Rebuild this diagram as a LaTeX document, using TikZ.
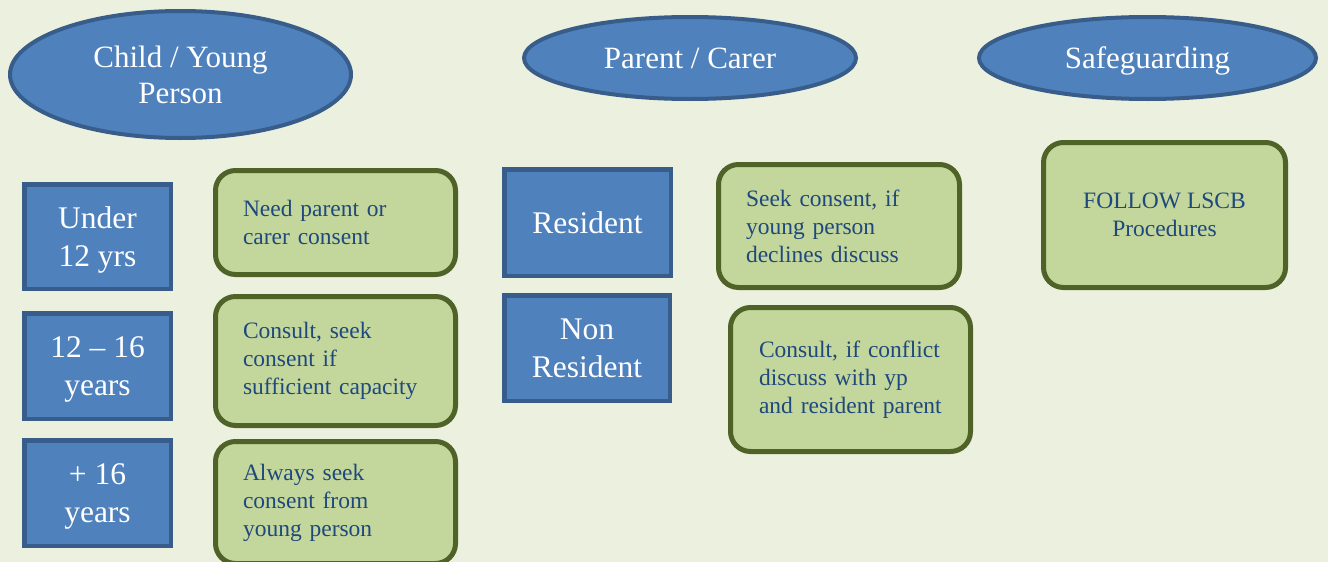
\documentclass[tikz,border=0pt]{standalone}
\usepackage{fontspec}
\setmainfont{Liberation Serif}
\usetikzlibrary{shapes.geometric}
\definecolor{bgc}{HTML}{EBF1DE}
\definecolor{bluefill}{HTML}{4F81BD}
\definecolor{blueline}{HTML}{385D8A}
\definecolor{greenfill}{HTML}{C3D69B}
\definecolor{greenline}{HTML}{4F6228}
\definecolor{darktext}{HTML}{1F497D}
\tikzset{
  ell/.style={ellipse, draw=blueline, fill=bluefill, line width=4pt, text=white,
    font=\fontsize{31}{36}\selectfont, align=center, inner sep=0pt, text depth=0pt},
  bluebox/.style={rectangle, draw=blueline, fill=bluefill, line width=4.5pt, text=white,
    font=\fontsize{31.5}{37.5}\selectfont, align=center, inner sep=0pt, text depth=0pt,
    minimum width=146.5pt},
  greenbox/.style={rectangle, rounded corners=20pt, draw=greenline, fill=greenfill,
    line width=5pt, text=darktext, font=\fontsize{23.5}{28}\selectfont, inner sep=0pt},
}
\begin{document}
\begin{tikzpicture}[x=1pt,y=-1pt]
\useasboundingbox (0,0) rectangle (1328,562);
\fill[bgc] (0,0) rectangle (1328,562);
\begin{scope}
\clip (0,0) rectangle (1328,562);
% header ellipses
\node[ell, minimum width=341pt, minimum height=127pt] (child) at (180.5,74.5) {Child / Young\\Person};
\node[ell, minimum width=332pt, minimum height=82pt] (parent) at (690,58) {Parent / Carer};
\node[ell, minimum width=337pt, minimum height=82pt] (safe) at (1147.5,58) {Safeguarding};
% left blue boxes
\node[bluebox, minimum height=104.5pt] (u12) at (97.5,236.5) {Under\\12 yrs};
\node[bluebox, minimum height=105.5pt] (y1216) at (97.5,366) {12 -- 16\\years};
\node[bluebox, minimum height=105.5pt] (p16) at (97.5,493) {+ 16\\years};
% left green boxes
\node[greenbox, minimum width=240pt, minimum height=104pt, text width=185pt, align=left] (g1) at (335.5,222.5)
  {Need~parent~or\\carer~consent};
\node[greenbox, minimum width=240pt, minimum height=129pt, text width=185pt, align=left] (g2) at (335.5,361)
  {Consult,~seek\\consent~if\\sufficient~capacity};
\node[greenbox, minimum width=240pt, minimum height=122pt, text width=185pt, align=left] (g3) at (335.5,502.5)
  {Always~seek\\consent~from\\young~person};
% middle blue boxes
\node[bluebox, minimum width=166.5pt, minimum height=106.5pt] (res) at (587.5,222.5) {Resident};
\node[bluebox, minimum width=165.5pt, minimum height=105.5pt] (nonres) at (587,348) {Non\\Resident};
% middle green boxes
\node[greenbox, minimum width=241pt, minimum height=123pt, text width=186pt, align=left] (m1) at (839,226)
  {Seek~consent,~if\\young~person\\declines~discuss};
\node[greenbox, minimum width=240pt, minimum height=144pt, text width=183pt, align=left] (m2) at (850.5,379.5)
  {Consult,~if~conflict\\discuss~with~yp\\and~resident~parent};
% safeguarding box
\node[greenbox, minimum width=242pt, minimum height=145pt, align=center] (s1) at (1164.5,215)
  {FOLLOW LSCB\\Procedures};
\end{scope}
\end{tikzpicture}
\end{document}
